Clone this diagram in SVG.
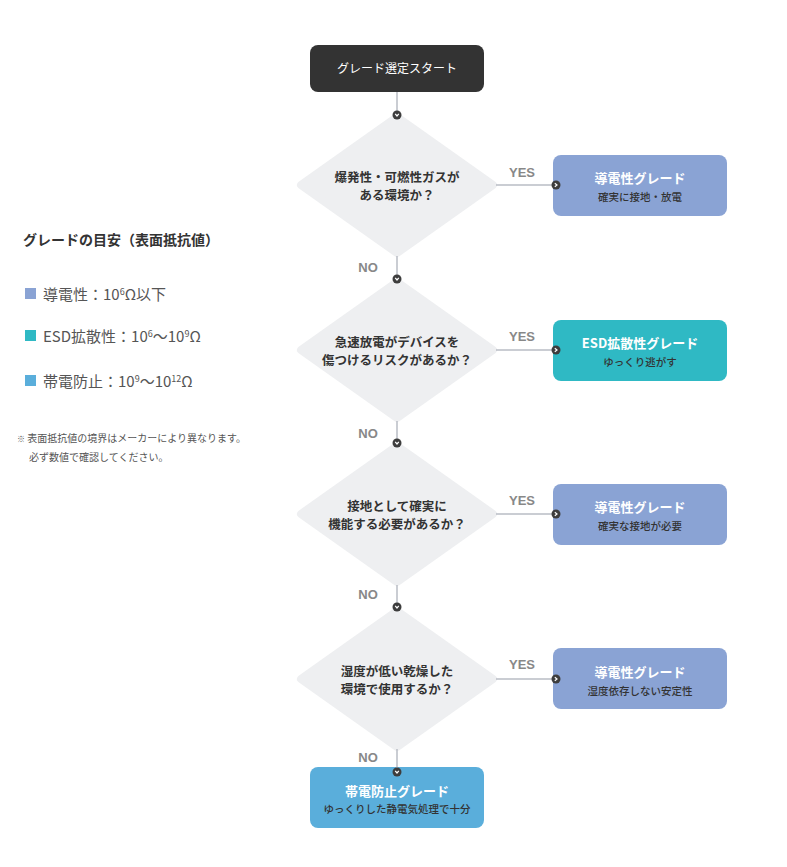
<svg xmlns="http://www.w3.org/2000/svg" width="787" height="867" viewBox="0 0 787 867">
<style>
text{font-family:"Noto Sans CJK JP","Noto Sans",sans-serif;}
.q{font-size:12.5px;font-weight:700;fill:#333;text-anchor:middle;}
.t{font-size:13px;font-weight:700;fill:#fff;text-anchor:middle;}
.s{font-size:10.5px;font-weight:500;fill:#333;text-anchor:middle;}
.lab{font-family:"Liberation Sans",Arial,sans-serif;font-size:13px;font-weight:700;fill:#888;text-anchor:middle;}
.dia{fill:#eeeff1;stroke:#eeeff1;stroke-width:8;stroke-linejoin:round;}
.cn{stroke:#b8bcc4;stroke-width:1.5;fill:none;marker-end:url(#dot);}
.lg{font-size:15px;fill:#555;}
.nt{font-size:10px;fill:#555;}
</style>
<defs>
<marker id="dot" viewBox="-5 -5 10 10" refX="0" refY="0" markerWidth="10" markerHeight="10" markerUnits="userSpaceOnUse" orient="auto">
<circle r="4.5" fill="#3d3d3d"/>
<polyline points="-1.2,-1.8 1,0 -1.2,1.8" fill="none" stroke="#fff" stroke-width="1.2"/>
</marker>
</defs>

<g id="legend">
<text x="23" y="245" style="font-size:14px;font-weight:700;fill:#333;">グレードの目安（表面抵抗値）</text>
<rect x="25" y="288" width="11" height="11" fill="#8aa3d4"/>
<text x="43" y="300" class="lg">導電性：10<tspan dy="-5" font-size="9">6</tspan><tspan dy="5">Ω以下</tspan></text>
<rect x="25" y="330" width="11" height="11" fill="#2fb9c4"/>
<text x="43" y="342" class="lg">ESD拡散性：10<tspan dy="-5" font-size="9">6</tspan><tspan dy="5">〜10</tspan><tspan dy="-5" font-size="9">9</tspan><tspan dy="5">Ω</tspan></text>
<rect x="25" y="375" width="11" height="11" fill="#5aaedb"/>
<text x="43" y="387" class="lg">帯電防止：10<tspan dy="-5" font-size="9">9</tspan><tspan dy="5">〜10</tspan><tspan dy="-5" font-size="9">12</tspan><tspan dy="5">Ω</tspan></text>
<text x="17" y="442" class="nt"><tspan font-size="8" fill="#555">※</tspan> 表面抵抗値の境界はメーカーにより異なります。</text>
<text x="29" y="461" class="nt">必ず数値で確認してください。</text>
</g>

<g id="start">
<rect x="310" y="45" width="174" height="47" rx="8" fill="#333"/>
<text x="397" y="73" style="font-size:12px;fill:#fff;text-anchor:middle;">グレード選定スタート</text>
</g>

<g id="q1">
<polygon points="397,117 493,185 397,253 301,185" class="dia"/>
<text x="397" y="182" class="q">爆発性・可燃性ガスが</text>
<text x="397" y="200" class="q">ある環境か？</text>
</g>
<g id="r1">
<rect x="553" y="155" width="174" height="61" rx="8" fill="#8aa3d4"/>
<text x="640" y="183" class="t">導電性グレード</text>
<text x="640" y="201" class="s">確実に接地・放電</text>
</g>

<g id="q2">
<polygon points="397,282 493,350 397,418 301,350" class="dia"/>
<text x="397" y="347" class="q">急速放電がデバイスを</text>
<text x="397" y="365" class="q">傷つけるリスクがあるか？</text>
</g>
<g id="r2">
<rect x="553" y="320" width="174" height="61" rx="8" fill="#2fb9c4"/>
<text x="640" y="348" class="t">ESD拡散性グレード</text>
<text x="640" y="366" class="s">ゆっくり逃がす</text>
</g>

<g id="q3">
<polygon points="397,446 493,514 397,582 301,514" class="dia"/>
<text x="397" y="511" class="q">接地として確実に</text>
<text x="397" y="529" class="q">機能する必要があるか？</text>
</g>
<g id="r3">
<rect x="553" y="484" width="174" height="61" rx="8" fill="#8aa3d4"/>
<text x="640" y="512" class="t">導電性グレード</text>
<text x="640" y="530" class="s">確実な接地が必要</text>
</g>

<g id="q4">
<polygon points="397,611 493,679 397,747 301,679" class="dia"/>
<text x="397" y="676" class="q">湿度が低い乾燥した</text>
<text x="397" y="694" class="q">環境で使用するか？</text>
</g>
<g id="r4">
<rect x="553" y="648" width="174" height="61" rx="8" fill="#8aa3d4"/>
<text x="640" y="677" class="t">導電性グレード</text>
<text x="640" y="695" class="s">湿度依存しない安定性</text>
</g>

<g id="r5">
<rect x="310" y="767" width="174" height="61" rx="8" fill="#5aaedb"/>
<text x="397" y="796" class="t">帯電防止グレード</text>
<text x="397" y="813" class="s">ゆっくりした静電気処理で十分</text>
</g>

<g id="connectors">
<line x1="397" y1="92" x2="397" y2="115" class="cn"/>
<line x1="397" y1="256" x2="397" y2="279" class="cn"/>
<line x1="397" y1="421" x2="397" y2="443" class="cn"/>
<line x1="397" y1="585" x2="397" y2="607" class="cn"/>
<line x1="397" y1="749" x2="397" y2="772" class="cn"/>
<line x1="496" y1="185" x2="556" y2="185" class="cn"/>
<line x1="496" y1="350" x2="556" y2="350" class="cn"/>
<line x1="496" y1="514" x2="556" y2="514" class="cn"/>
<line x1="496" y1="679" x2="556" y2="679" class="cn"/>
<text x="522" y="177" class="lab">YES</text>
<text x="522" y="341" class="lab">YES</text>
<text x="522" y="505" class="lab">YES</text>
<text x="522" y="669" class="lab">YES</text>
<text x="368" y="272" class="lab">NO</text>
<text x="368" y="438" class="lab">NO</text>
<text x="368" y="599" class="lab">NO</text>
<text x="368" y="762" class="lab">NO</text>
</g>
</svg>
